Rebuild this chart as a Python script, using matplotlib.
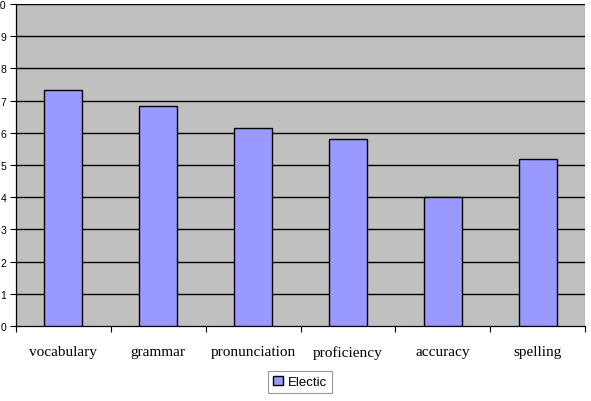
import matplotlib
matplotlib.use("Agg")
import matplotlib.pyplot as plt
import numpy as np

categories = ["vocabulary", "grammar", "pronunciation", "proficiency", "accuracy", "spelling"]
values = [7.34, 6.84, 6.16, 5.81, 4.0, 5.19]
series_name = "Electic"
yticks = list(range(0, 11))

fig = plt.figure(figsize=(5.91, 4.02), dpi=100)
ax = fig.add_axes([16/591, 1 - 327/402, (585-16)/591, (327-5)/402])
ax.set_facecolor("#C0C0C0")

x = np.arange(len(categories))
bars = ax.bar(x, values, width=0.4, color="#9999FF", edgecolor="black", linewidth=1.0,
              zorder=3, label=series_name)

ax.set_xlim(-0.5, len(categories) - 0.5)
ax.set_ylim(0, 10)
ax.set_yticks(yticks)
ax.set_yticklabels([str(t) for t in yticks], fontsize=7.5, family="Liberation Sans")
for t in yticks[1:]:
    ax.axhline(t, color="black", linewidth=1.0, zorder=1)

ax.set_xticks(np.arange(-0.5, len(categories) + 0.5, 1))
ax.set_xticklabels([])
ax.set_xticks(x, minor=True)
ax.set_xticklabels(categories, minor=True, fontsize=11, family="Liberation Serif")
ax.tick_params(axis="x", which="minor", length=0, pad=14)
ax.tick_params(axis="x", which="major", length=4, width=0.8, direction="out", color="black")
ax.tick_params(axis="y", length=4, width=0.8, direction="out", pad=3)

for s in ["top", "right"]:
    ax.spines[s].set_visible(False)
ax.spines["left"].set_color("black")
ax.spines["bottom"].set_color("black")
ax.spines["left"].set_linewidth(0.9)
ax.spines["bottom"].set_linewidth(0.9)
ax.axvline(len(categories) - 0.5, color="#A0A0A0", linewidth=0.9, zorder=0)

leg = fig.legend(handles=[bars], labels=[series_name], loc="center",
                 bbox_to_anchor=(300/591, 1 - 383/402), frameon=True, fancybox=False,
                 prop={"family": "Liberation Sans", "size": 9.5}, handlelength=0.75,
                 handleheight=0.75, handletextpad=0.4, borderpad=0.35, borderaxespad=0)
leg.get_frame().set_edgecolor("#808080")
leg.get_frame().set_linewidth(0.8)

fig.savefig("out.png", dpi=100)
